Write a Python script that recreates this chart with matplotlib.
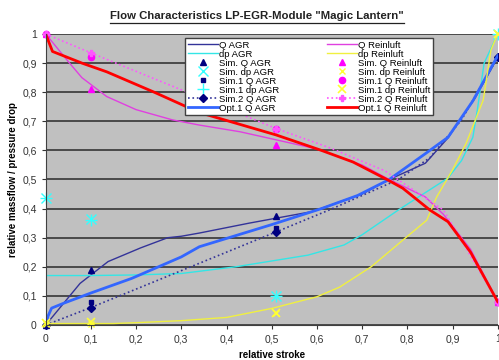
import matplotlib
matplotlib.use("Agg")
import matplotlib.pyplot as plt
from matplotlib.lines import Line2D

plt.rcParams['font.family'] = ['Liberation Sans', 'DejaVu Sans']

# curves
q_agr_x = [0, 0.076, 0.138, 0.21, 0.27, 0.3, 0.34, 0.45, 0.59, 0.7, 0.76, 0.84, 0.89, 0.95, 1.0]
q_agr_y = [0, 0.143, 0.218, 0.265, 0.30, 0.305, 0.316, 0.35, 0.39, 0.45, 0.50, 0.556, 0.643, 0.78, 0.92]

dp_agr_x = [0, 0.1, 0.2, 0.3, 0.42, 0.58, 0.66, 0.7, 0.78, 0.89, 0.92, 0.945, 0.955, 0.97, 1.0]
dp_agr_y = [0.17, 0.17, 0.172, 0.177, 0.2, 0.24, 0.275, 0.31, 0.395, 0.505, 0.565, 0.645, 0.74, 0.9, 1.0]

q_rein_x = [0, 0.05, 0.08, 0.135, 0.2, 0.28, 0.34, 0.43, 0.6, 0.7, 0.76, 0.84, 0.88, 0.94, 1.0]
q_rein_y = [1, 0.905, 0.85, 0.785, 0.74, 0.705, 0.687, 0.664, 0.605, 0.55, 0.5, 0.44, 0.38, 0.26, 0.08]

dp_rein_x = [0, 0.15, 0.2, 0.3, 0.4, 0.5, 0.6, 0.65, 0.72, 0.795, 0.843, 0.865, 0.9, 0.93, 0.968, 0.985, 1.0]
dp_rein_y = [0.005, 0.005, 0.008, 0.015, 0.026, 0.057, 0.097, 0.13, 0.2, 0.298, 0.36, 0.44, 0.533, 0.624, 0.773, 0.945, 1.0]

opt_agr_x = [0, 0.005, 0.013, 0.04, 0.1, 0.19, 0.3, 0.34, 0.5, 0.61, 0.69, 0.76, 0.85, 0.89, 0.945, 1.0]
opt_agr_y = [0, 0.03, 0.058, 0.075, 0.11, 0.16, 0.234, 0.269, 0.345, 0.40, 0.445, 0.50, 0.60, 0.645, 0.77, 0.925]

opt_rein_x = [0, 0.015, 0.08, 0.135, 0.24, 0.34, 0.51, 0.61, 0.68, 0.755, 0.79, 0.85, 0.89, 0.94, 1.0]
opt_rein_y = [1, 0.94, 0.9, 0.87, 0.80, 0.73, 0.653, 0.60, 0.56, 0.50, 0.47, 0.395, 0.355, 0.25, 0.08]

sim2_agr_x = [0, 0.1, 0.51, 0.63, 0.78, 0.85, 0.92, 1.0]
sim2_agr_y = [0, 0.06, 0.32, 0.397, 0.50, 0.575, 0.705, 0.92]
sim2_rein_x = [0, 0.1, 0.51, 0.63, 0.75, 0.88, 1.0]
sim2_rein_y = [1, 0.935, 0.675, 0.608, 0.53, 0.395, 0.08]

# simulation points
sim_x = [0, 0.1, 0.51, 1.0]
sim_q_agr = [0, 0.19, 0.375, 0.92]
sim1_q_agr = [0, 0.08, 0.335, 0.92]
sim_dp_agr = [0.435, 0.365, 0.1, 1.0]
sim1_dp_agr = [0.435, 0.36, 0.1, 1.0]
sim_q_rein = [1, 0.81, 0.62, 0.08]
sim1_q_rein = [1, 0.92, 0.675, 0.08]
sim_dp_rein = [0.005, 0.005, 0.04, 1.0]
sim1_dp_rein = [0.008, 0.01, 0.04, 1.0]

xticks = [i / 10 for i in range(11)]
tick_labels = ['0'] + ['0,%d' % i for i in range(1, 10)] + ['1']

fig = plt.figure(figsize=(4.99, 3.6), dpi=100)
ax = fig.add_axes([0.0916, 0.0972, 0.9058, 0.8084])
ax.set_facecolor('#c0c0c0')

ax.plot(q_agr_x, q_agr_y, color='#333399', lw=1, label='Q AGR')
ax.plot(dp_agr_x, dp_agr_y, color='#33e6e6', lw=1, label='dp AGR')
ax.plot(sim_x, sim_q_agr, ls='none', marker='^', ms=4, color='#000080', label='Sim. Q AGR', clip_on=False)
ax.plot(sim_x, sim_dp_agr, ls='none', marker='x', ms=7, mew=1, color='#33ffff', label='Sim. dp AGR', clip_on=False)
ax.plot(sim_x, sim1_q_agr, ls='none', marker='s', ms=3.5, color='#000080', label='Sim.1 Q AGR', clip_on=False)
ax.plot(sim_x, sim1_dp_agr, ls='none', marker='+', ms=9, mew=1, color='#33ffff', label='Sim.1 dp AGR', clip_on=False)
ax.plot(sim2_agr_x, sim2_agr_y, ls=':', lw=1.2, color='#333399', marker='D', ms=4.5,
        mfc='#000080', mec='#000080', markevery=[0, 1, 2, 7], label='Sim.2 Q AGR', clip_on=False)
ax.plot(opt_agr_x, opt_agr_y, color='#3366ff', lw=2, label='Opt.1 Q AGR')

ax.plot(q_rein_x, q_rein_y, color='#e040e0', lw=1, label='Q Reinluft')
ax.plot(dp_rein_x, dp_rein_y, color='#f0f040', lw=1, label='dp Reinluft')
ax.plot(sim_x, sim_q_rein, ls='none', marker='^', ms=4, color='#ff00ff', label='Sim. Q Reinluft', clip_on=False)
ax.plot(sim_x, sim_dp_rein, ls='none', marker='x', ms=5, mew=1, color='#ffff33', label='Sim. dp Reinluft', clip_on=False)
ax.plot(sim_x, sim1_q_rein, ls='none', marker='o', ms=4.5, color='#ff00ff', label='Sim.1 Q Reinluft', clip_on=False)
ax.plot(sim_x, sim1_dp_rein, ls='none', marker='x', ms=6, mew=1.2, color='#ffff33', label='Sim.1 dp Reinluft', clip_on=False)
ax.plot(sim2_rein_x, sim2_rein_y, ls=':', lw=1.2, color='#ff55ff', marker='P', ms=4,
        markevery=[0, 1, 2, 6], label='Sim.2 Q Reinluft', clip_on=False)
ax.plot(opt_rein_x, opt_rein_y, color='#ff0000', lw=2, label='Opt.1 Q Reinluft')

ax.set_xlim(0, 1)
ax.set_ylim(0, 1)
ax.set_xticks(xticks)
ax.set_xticklabels(tick_labels)
ax.set_yticks(xticks)
ax.set_yticklabels(tick_labels)
ax.tick_params(labelsize=7.5, colors='#333333', length=3)
ax.yaxis.grid(True, color='#404040', lw=1.3)
ax.set_axisbelow(True)
for side in ['top', 'right']:
    ax.spines[side].set_visible(False)
ax.spines['left'].set_color('#404040')
ax.spines['bottom'].set_color('#404040')

ax.set_xlabel('relative stroke', fontsize=7, fontweight='bold', labelpad=4)
ax.set_ylabel('relative massflow / pressure drop', fontsize=7, fontweight='bold', labelpad=3)

leg = ax.legend(ncol=2, loc='upper left', bbox_to_anchor=(0.297, 1.003, 0.571, 0.0),
                mode='expand', fontsize=6.8, labelspacing=0.0, handlelength=3.2,
                handletextpad=0.1, borderpad=0.3, columnspacing=1.0,
                fancybox=False, framealpha=1, edgecolor='#404040')
leg.get_frame().set_linewidth(1)

title = fig.text(0.515, 0.955, 'Flow Characteristics LP-EGR-Module "Magic Lantern"',
                 ha='center', va='center', fontsize=8.2, fontweight='bold', color='#222222')
fig.canvas.draw()
bb = title.get_window_extent().transformed(fig.transFigure.inverted())
fig.add_artist(Line2D([bb.x0, bb.x1], [bb.y0 - 0.004, bb.y0 - 0.004], color='#222222', lw=0.9))

fig.savefig('out.png', dpi=100)
